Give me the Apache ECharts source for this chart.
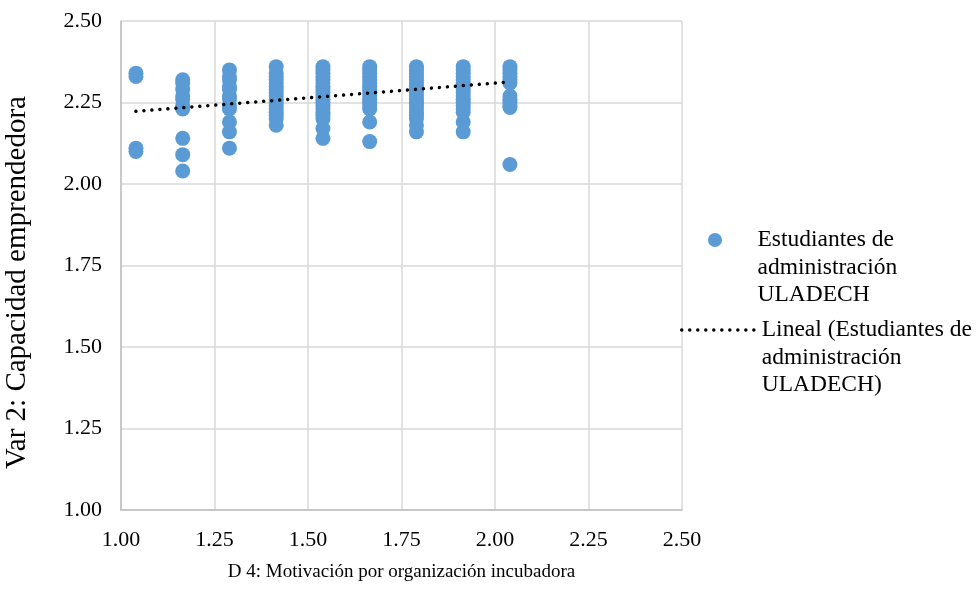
<!DOCTYPE html>
<html>
<head>
<meta charset="utf-8">
<script src="https://cdn.jsdelivr.net/npm/echarts@6/dist/echarts.min.js"></script>
<style>
  html, body { margin: 0; padding: 0; background: #fff; }
  #main { width: 976px; height: 615px; }
</style>
</head>
<body>
<div id="main"></div>
<script>
// valores de X (columnas) y los valores de Y de cada columna
let xCols = [1.04, 1.165, 1.29, 1.415, 1.54, 1.665, 1.79, 1.915, 2.04];
let yCols = [
    [2.34, 2.33, 2.11, 2.10],
    [2.32, 2.31, 2.29, 2.27, 2.26, 2.24, 2.23, 2.14, 2.09, 2.04],
    [2.35, 2.33, 2.32, 2.30, 2.29, 2.27, 2.26, 2.24, 2.23, 2.19, 2.16, 2.11],
    [2.36, 2.34, 2.33, 2.32, 2.31, 2.30, 2.29, 2.28, 2.27, 2.26, 2.25, 2.24, 2.23, 2.22, 2.21, 2.20, 2.18],
    [2.36, 2.35, 2.34, 2.33, 2.32, 2.31, 2.30, 2.29, 2.28, 2.27, 2.26, 2.25, 2.24, 2.23, 2.22, 2.21, 2.20, 2.17, 2.14],
    [2.36, 2.35, 2.34, 2.33, 2.32, 2.31, 2.30, 2.29, 2.28, 2.27, 2.26, 2.25, 2.24, 2.23, 2.19, 2.13],
    [2.36, 2.35, 2.34, 2.33, 2.32, 2.31, 2.30, 2.29, 2.28, 2.27, 2.26, 2.25, 2.24, 2.23, 2.22, 2.21, 2.20, 2.18, 2.16],
    [2.36, 2.35, 2.34, 2.33, 2.32, 2.31, 2.30, 2.29, 2.28, 2.27, 2.26, 2.25, 2.24, 2.23, 2.22, 2.19, 2.16],
    [2.36, 2.35, 2.34, 2.33, 2.32, 2.31, 2.27, 2.26, 2.25, 2.24, 2.235, 2.06]
];
// linea de tendencia (extremos)
let trendX = [1.04, 2.04];
let trendY = [2.223, 2.313];
let axisTicks = [1.00, 1.25, 1.50, 1.75, 2.00, 2.25, 2.50];

let serieName = 'Estudiantes de administración ULADECH';
let trendName = 'Lineal (Estudiantes de administración ULADECH)';

let scatterData = [];
for (let i = 0; i < xCols.length; i++) {
    for (let j = 0; j < yCols[i].length; j++) {
        scatterData.push([xCols[i], yCols[i][j]]);
    }
}
let trendData = trendX.map(function (x, i) { return [x, trendY[i]]; });

let fontFam = '"Liberation Serif", "Times New Roman", serif';

let myChart = echarts.init(document.getElementById('main'));

function axisCfg(name, gap, nameSize, namePad) {
    return {
        type: 'value',
        min: axisTicks[0],
        max: axisTicks[axisTicks.length - 1],
        interval: 0.25,
        name: name,
        nameLocation: 'middle',
        nameGap: gap,
        nameTextStyle: { fontFamily: fontFam, fontSize: nameSize, color: '#000', padding: namePad },
        axisLine: { show: true, lineStyle: { color: '#bfbfbf', width: 1.5 } },
        axisTick: { show: false },
        splitLine: { show: true, lineStyle: { color: '#d9d9d9', width: 1.5 } },
        axisLabel: {
            fontFamily: fontFam, fontSize: 22, color: '#000', margin: 19,
            formatter: function (v) { return v.toFixed(2); }
        }
    };
}

let legendText = { fontFamily: fontFam, fontSize: 23.5, color: '#000', lineHeight: 27.5 };

let option = {
    animation: false,
    grid: { left: 121, right: 294, top: 21, bottom: 105, containLabel: false, outerBoundsMode: 'none' },
    xAxis: axisCfg('D 4: Motivación por organización incubadora', 53, 19, 0),
    yAxis: axisCfg('Var 2: Capacidad emprendedora', 89, 29, [0, 34, 0, 0]),
    legend: [
        {
            data: [serieName],
            left: 708, top: 240 - 68.75,
            padding: 0,
            itemWidth: 75, itemHeight: 14,
            textStyle: legendText,
            // dos lineas vacias para que el icono quede en la primera linea
            formatter: function () { return '\n\nEstudiantes de\nadministración\nULADECH'; }
        },
        {
            data: [trendName],
            left: 680, top: 330 - 68.75,
            padding: 0,
            itemWidth: 75, itemHeight: 14,
            itemStyle: { opacity: 0 },
            lineStyle: { width: 3.5, type: [0.01, 8], cap: 'round', color: '#000' },
            textStyle: legendText,
            formatter: function () { return '\n\nLineal (Estudiantes de\nadministración\nULADECH)'; }
        }
    ],
    series: [
        {
            name: serieName,
            type: 'scatter',
            symbolSize: 15,
            itemStyle: { color: '#5b9bd5', opacity: 1 },
            data: scatterData
        },
        {
            name: trendName,
            type: 'line',
            symbol: 'none',
            z: 3,
            lineStyle: { color: '#000', width: 3.5, type: [0.01, 8], cap: 'round' },
            itemStyle: { color: '#000' },
            data: trendData
        }
    ]
};
myChart.setOption(option);
</script>
</body>
</html>
